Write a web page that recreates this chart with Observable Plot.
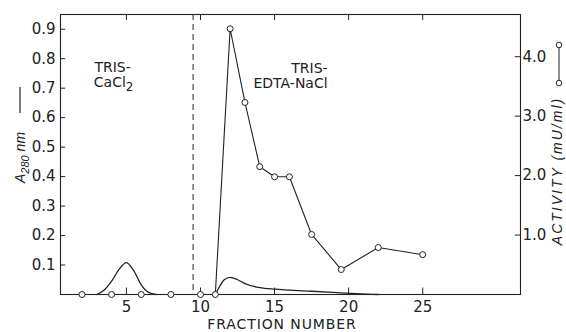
<!DOCTYPE html>
<html><head><meta charset="utf-8">
<script src="https://cdn.jsdelivr.net/npm/d3@7"></script>
<script src="https://cdn.jsdelivr.net/npm/@observablehq/plot@0.6"></script>
<style>
body{margin:0;background:#fff;}
#chart{width:566px;height:332px;}
</style></head><body><div id="chart"></div>
<script>
// Activity (mU/ml), open circles
const actFraction = [2, 4, 6, 8, 10, 11, 12, 13, 14, 15, 16, 17.5, 19.5, 22, 25];
const actValue    = [0, 0, 0, 0, 0, 0, 4.47, 3.23, 2.15, 1.98, 1.98, 1.01, 0.42, 0.79, 0.67];
// A280 curves (two peaks)
const a280Fraction1 = [3, 3.5, 4, 4.5, 5, 5.5, 6, 6.5, 7];
const a280Value1    = [0, 0.015, 0.045, 0.085, 0.108, 0.08, 0.033, 0.007, 0];
const a280Fraction2 = [11, 11.3, 11.6, 12, 12.5, 13, 14, 15, 16, 17.5, 19, 20.5, 22];
const a280Value2    = [0, 0.028, 0.05, 0.058, 0.05, 0.037, 0.023, 0.018, 0.015, 0.011, 0.007, 0.003, 0];
// axes
const xTicks = [5, 10, 15, 20, 25];
const leftTicks = [0.1, 0.2, 0.3, 0.4, 0.5, 0.6, 0.7, 0.8, 0.9];
const rightTicks = [1.0, 2.0, 3.0, 4.0];
const bufferChange = [9.5];
// annotations (left-aligned block and right-aligned block)
const leftLabelText = ["TRIS-", "CaCl2"];
const leftLabelX = [2.84, 2.8];
const leftLabelY = [0.77, 0.72];
const rightLabelText = ["TRIS-", "EDTA-NaCl"];
const rightLabelX = [18.58, 18.58];
const rightLabelY = [0.766, 0.715];

const k = 0.2017; // A280 units per mU/ml on the shared vertical scale
const act = actFraction.map((f, i) => ({f, v: actValue[i] * k}));
const a280 = [
  ...a280Fraction1.map((f, i) => ({f, v: a280Value1[i], s: 1})),
  ...a280Fraction2.map((f, i) => ({f, v: a280Value2[i], s: 2}))
];
const leftLabels = leftLabelText.map((t, i) => ({t, x: leftLabelX[i], y: leftLabelY[i]}));
const rightLabels = rightLabelText.map((t, i) => ({t, x: rightLabelX[i], y: rightLabelY[i]}));
const xmin = 0.55, xmax = 31.6;
const ink = "#222";
const font = "'DejaVu Sans', Verdana, sans-serif";
const ifont = "'Liberation Sans', Arial, sans-serif";

const plot = Plot.plot({
  width: 566, height: 332,
  marginLeft: 60, marginRight: 46, marginTop: 14, marginBottom: 38,
  style: {fontSize: "15px", fontFamily: font, color: ink, background: "#fff"},
  x: {domain: [xmin, xmax], axis: null},
  y: {domain: [0, 0.95], axis: null},
  marks: [
    Plot.frame({stroke: ink, strokeWidth: 1.1}),
    Plot.ruleX(bufferChange, {stroke: ink, strokeDasharray: "6,4"}),
    Plot.axisY(leftTicks, {anchor: "left", tickSize: 0, tickPadding: 5, tickFormat: d => d.toFixed(1), label: null, fill: ink}),
    Plot.axisY(rightTicks.map(v => v * k), {anchor: "right", tickSize: 0, tickPadding: 2, tickFormat: d => (d / k).toFixed(1), label: null, fill: ink}),
    Plot.axisX(xTicks, {anchor: "bottom", tickSize: 0, tickPadding: 7, label: null, fill: ink}),
    Plot.ruleX(xTicks, {y1: 0, y2: 0.022, stroke: ink}),
    Plot.ruleX(xTicks, {y1: 0.93, y2: 0.95, stroke: ink}),
    Plot.ruleY(leftTicks, {x1: xmin, x2: xmin + 0.35, stroke: ink}),
    Plot.ruleY(rightTicks.map(v => v * k), {x1: xmax - 0.35, x2: xmax, stroke: ink}),
    Plot.line(a280, {x: "f", y: "v", z: "s", curve: "monotone-x", stroke: ink, strokeWidth: 1.3}),
    Plot.line(act, {x: "f", y: "v", stroke: ink, strokeWidth: 1.1}),
    Plot.dot(act, {x: "f", y: "v", r: 3, fill: "#fff", stroke: ink, strokeWidth: 1}),
    Plot.text(leftLabels, {x: "x", y: "y", text: "t", textAnchor: "start", fontSize: 14, fill: ink}),
    Plot.text(rightLabels, {x: "x", y: "y", text: "t", textAnchor: "end", fontSize: 14, fill: ink})
  ]
});

const svg = d3.select(plot);
// subscript in CaCl2
svg.selectAll("text").filter(function() { return this.textContent === "CaCl2"; }).each(function() {
  const t = d3.select(this);
  t.text("CaCl");
  t.append("tspan").attr("dy", 4).attr("font-size", 12).text("2");
});
// left axis label
const ly = svg.append("text").attr("transform", "translate(25,183) rotate(-90)").attr("text-anchor", "start")
  .attr("font-family", ifont).attr("font-size", 14).attr("fill", ink).attr("font-style", "italic");
ly.append("tspan").text("A");
ly.append("tspan").attr("dy", 4).attr("font-size", 11).text("280");
ly.append("tspan").attr("dy", -4).text(" nm");
svg.append("line").attr("x1", 20).attr("x2", 20).attr("y1", 87).attr("y2", 113).attr("stroke", ink).attr("stroke-width", 1.2);
// right axis label
svg.append("text").attr("transform", "translate(562,171) rotate(-90)")
  .attr("text-anchor", "middle").attr("font-family", ifont).attr("font-size", 14).attr("font-style", "italic")
  .attr("letter-spacing", 2).attr("fill", ink).text("ACTIVITY (mU/ml)");
svg.append("line").attr("x1", 559).attr("x2", 559).attr("y1", 45).attr("y2", 83).attr("stroke", ink).attr("stroke-width", 1);
svg.selectAll(null).data([45, 83]).join("circle").attr("cx", 559).attr("cy", d => d).attr("r", 2.8)
  .attr("fill", "#fff").attr("stroke", ink);
// x label
svg.append("text").attr("x", 282).attr("y", 329).attr("text-anchor", "middle")
  .attr("font-family", font).attr("font-size", 14).attr("letter-spacing", 0.9).attr("fill", ink).text("FRACTION NUMBER");

document.getElementById("chart").appendChild(plot);
</script></body></html>
